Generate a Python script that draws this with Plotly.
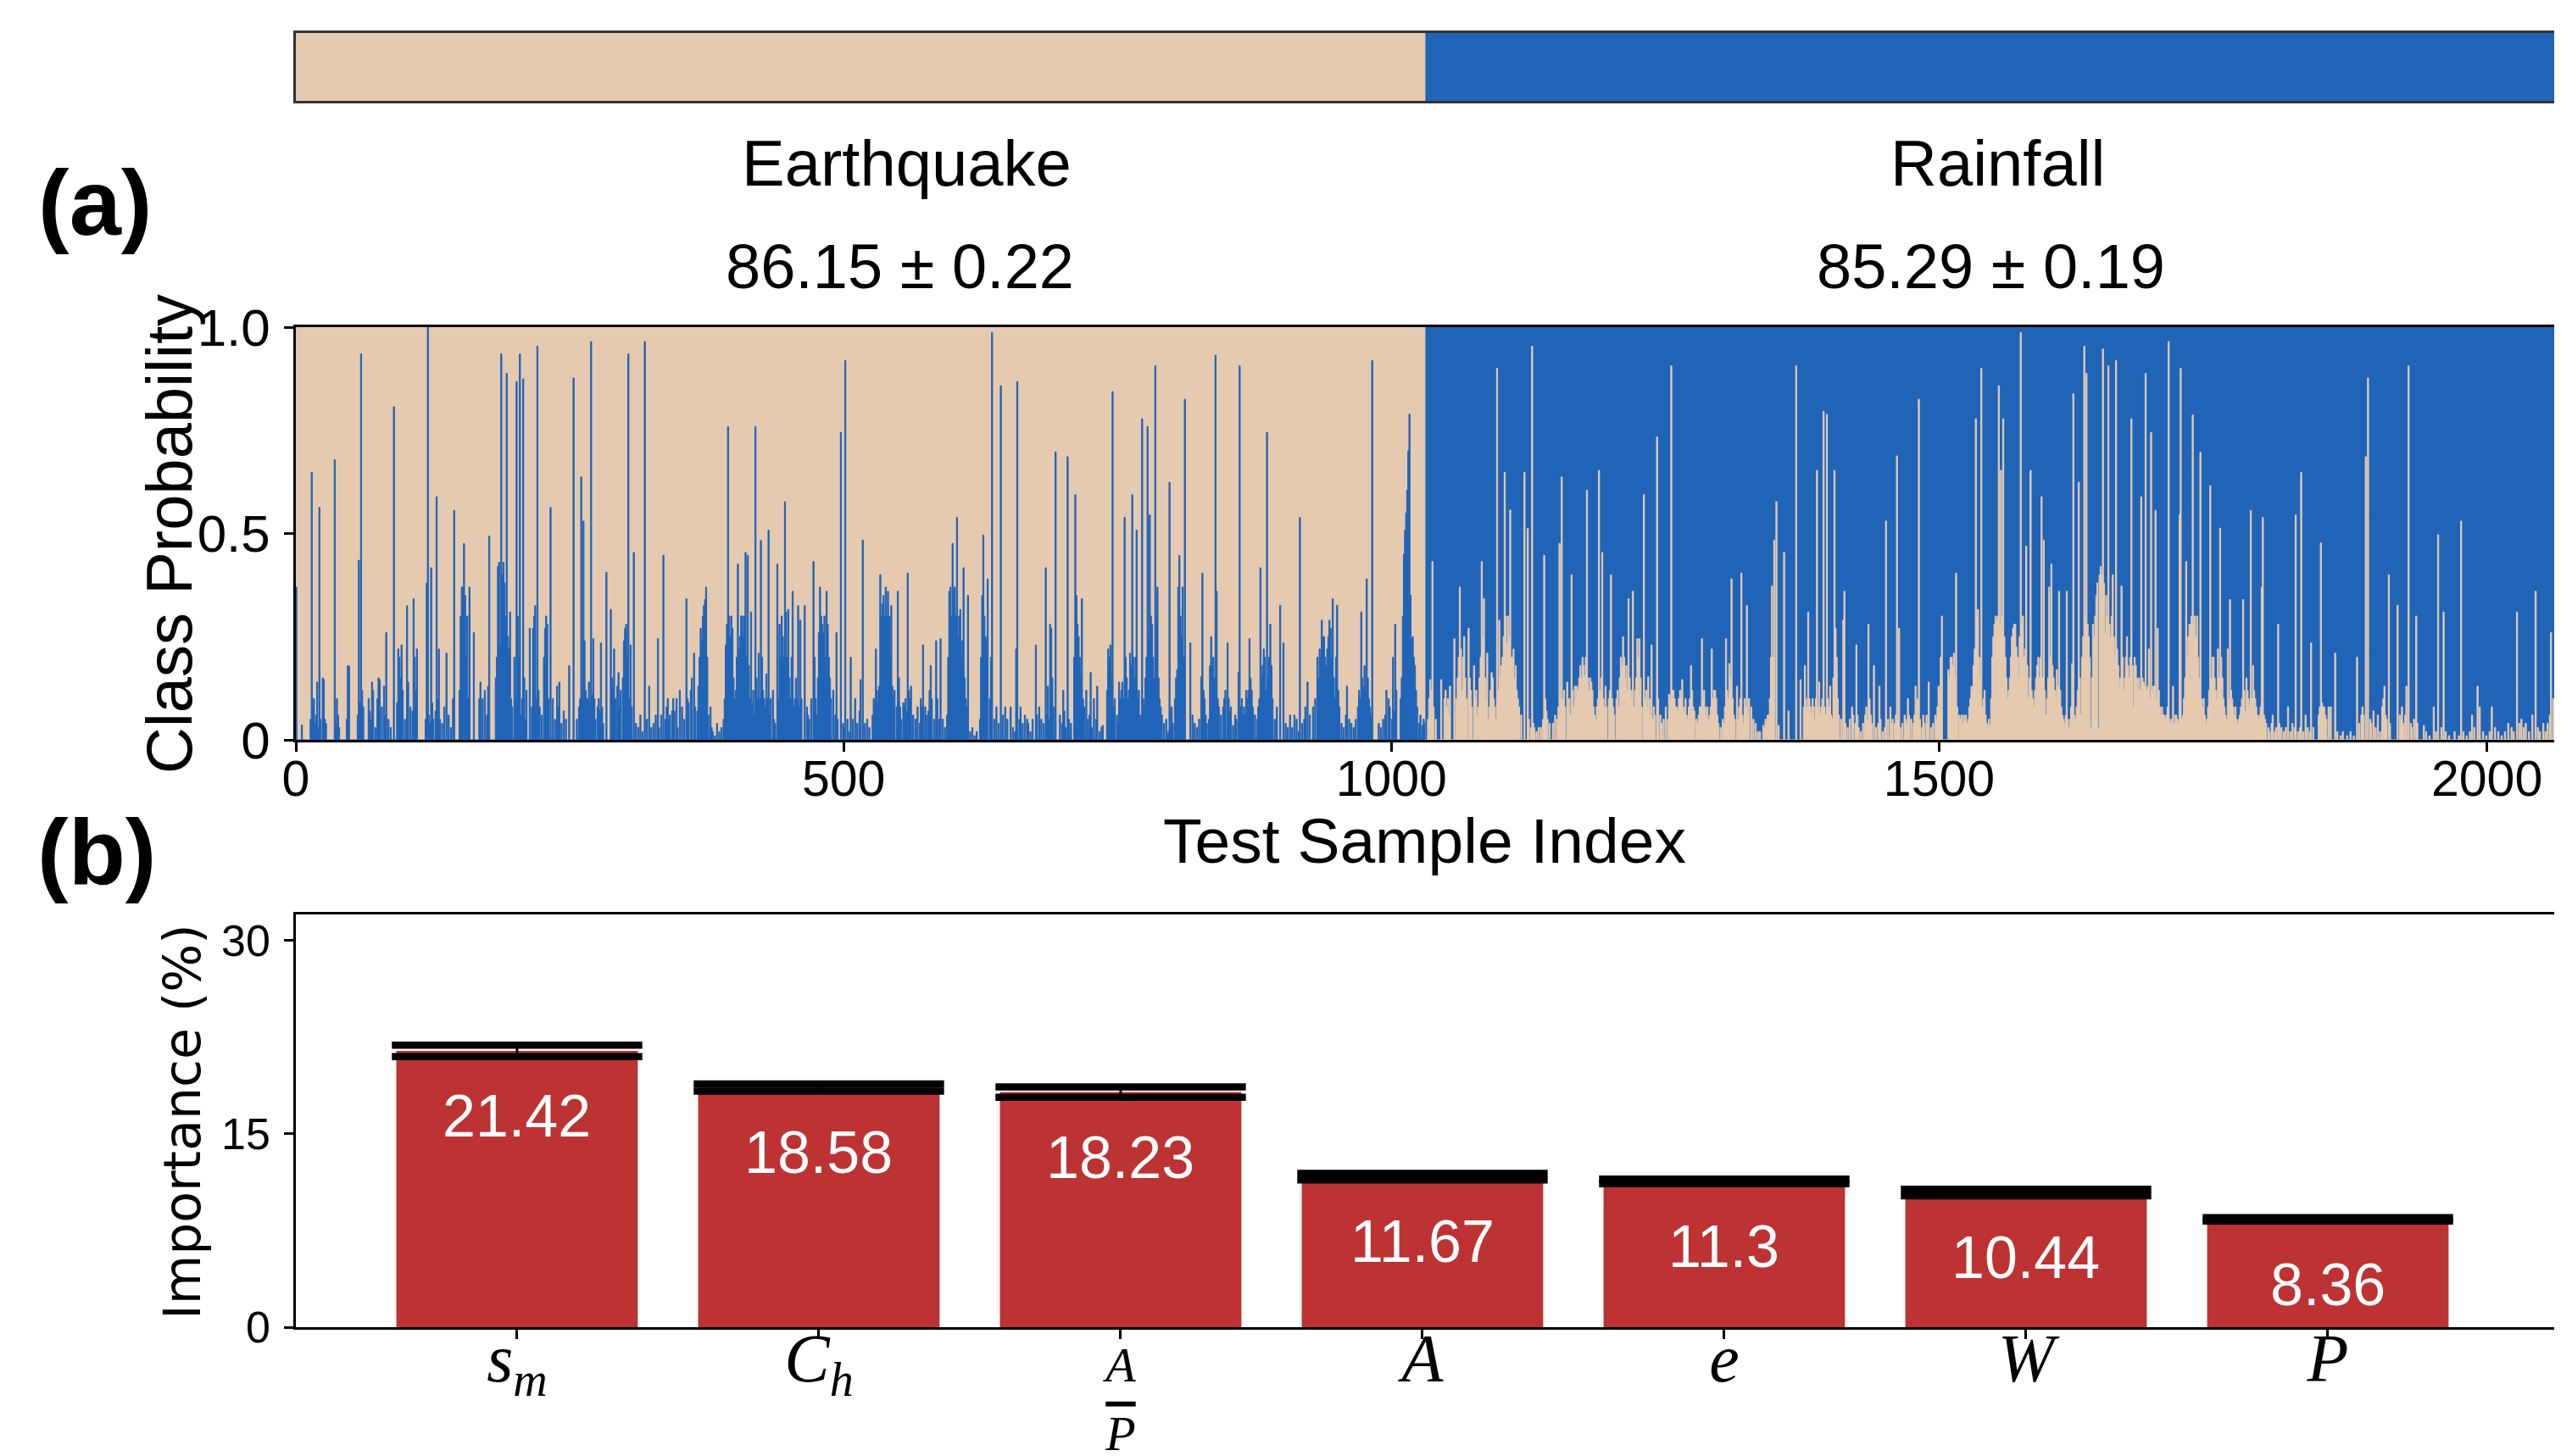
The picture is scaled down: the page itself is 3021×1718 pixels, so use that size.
import numpy as np
import plotly.graph_objects as go

# ---------------- data ----------------
n_earthquake = 1031
n_rainfall = 1032
class_names = ["Earthquake", "Rainfall"]
class_scores = ["86.15 ± 0.22", "85.29 ± 0.19"]

# earthquake test samples: predicted rainfall probability, tall spikes (index, value)
eq_idx = [0, 5, 14, 19, 21, 25, 35, 38, 48, 57, 59, 61, 69, 76, 82, 89, 96, 101, 107, 110,
          120, 123, 128, 130, 137, 144, 151, 153, 158, 162, 170, 175, 176, 186, 187, 189, 192, 195,
          201, 204, 207, 213, 218, 220, 229, 232, 240, 249, 253, 256, 260, 262, 269, 271, 278, 283,
          287, 294, 301, 303, 305, 308, 318, 322, 330, 333, 335, 341, 347, 356, 363, 369, 372, 374,
          378, 382, 392, 394, 398, 403, 410, 412, 415, 419, 422, 424, 431, 439, 441, 446, 449, 453,
          458, 460, 464, 472, 478, 484, 485, 493, 497, 501, 506, 510, 515, 517, 529, 533, 538, 540,
          543, 549, 554, 558, 561, 572, 574, 579, 588, 597, 599, 603, 606, 609, 613, 627, 631, 635,
          643, 647, 657, 658, 661, 668, 675, 678, 684, 686, 688, 693, 701, 704, 711, 713, 717, 725,
          731, 736, 743, 745, 751, 756, 761, 763, 767, 772, 777, 779, 784, 786, 795, 797, 804, 806,
          809, 811, 816, 826, 827, 830, 836, 839, 840, 850, 855, 860, 861, 864, 867, 870, 880, 883,
          886, 889, 895, 898, 901, 911, 916, 921, 923, 932, 936, 938, 943, 946, 950, 959, 972, 975,
          977, 982, 995, 1001, 1003, 1012, 1014, 1016, 1018, 1021, 1028]
eq_p_rain = [0.37, 0.036, 0.648, 0.14, 0.563, 0.146, 0.679, 0.06, 0.179, 0.435, 0.935, 0.08, 0.14, 0.146, 0.26, 0.807, 0.23, 0.325, 0.342, 0.22,
             1.0, 0.417, 0.589, 0.22, 0.21, 0.556, 0.37, 0.476, 0.37, 0.26, 0.10, 0.13, 0.494, 0.23, 0.935, 0.43, 0.888, 0.31,
             0.868, 0.935, 0.875, 0.27, 0.325, 0.954, 0.28, 0.563, 0.14, 0.18, 0.877, 0.05, 0.637, 0.53, 0.965, 0.245, 0.235, 0.406,
             0.316, 0.163, 0.28, 0.935, 0.23, 0.454, 0.965, 0.13, 0.245, 0.06, 0.447, 0.06, 0.10, 0.342, 0.21, 0.27, 0.325, 0.37,
             0.08, 0.01, 0.23, 0.759, 0.27, 0.426, 0.454, 0.447, 0.31, 0.759, 0.21, 0.483, 0.508, 0.426, 0.28, 0.577, 0.316, 0.36,
             0.325, 0.29, 0.325, 0.432, 0.37, 0.36, 0.28, 0.26, 0.745, 0.919, 0.20, 0.10, 0.146, 0.484, 0.22, 0.40, 0.37, 0.36,
             0.325, 0.36, 0.09, 0.404, 0.13, 0.23, 0.08, 0.18, 0.245, 0.37, 0.476, 0.539, 0.316, 0.417, 0.35, 0.496, 0.39, 0.987,
             0.858, 0.08, 0.22, 0.868, 0.08, 0.04, 0.23, 0.08, 0.417, 0.13, 0.28, 0.698, 0.07, 0.686, 0.594, 0.28, 0.342, 0.163,
             0.13, 0.035, 0.23, 0.844, 0.14, 0.539, 0.21, 0.594, 0.508, 0.778, 0.759, 0.545, 0.906, 0.37, 0.01, 0.624, 0.17, 0.447,
             0.37, 0.825, 0.235, 0.153, 0.404, 0.06, 0.18, 0.932, 0.36, 0.235, 0.035, 0.163, 0.906, 0.06, 0.12, 0.245, 0.417, 0.22,
             0.745, 0.28, 0.08, 0.326, 0.235, 0.06, 0.539, 0.08, 0.14, 0.20, 0.29, 0.25, 0.29, 0.342, 0.326, 0.13, 0.31, 0.18,
             0.39, 0.919, 0.12, 0.20, 0.28, 0.508, 0.605, 0.789, 0.245, 0.18, 0.035]

# earthquake test samples: low-level predicted rainfall probability (index, value)
eq_base_idx = [13, 15, 16, 17, 18, 20, 22, 24, 26, 27, 36, 37, 39, 46, 47, 56, 58, 60, 66, 67, 68, 70, 72, 74, 75, 78, 80, 81, 84, 86,
               92, 93, 94, 95, 97, 99, 102, 104, 106, 108, 109, 118, 119, 121, 122, 124, 125, 127, 129, 131, 133, 135, 139, 141, 143,
               149, 150, 152, 154, 155, 156, 157, 167, 168, 172, 174, 182, 183, 184, 185, 188, 190, 191, 193, 194, 196, 197,
               199, 200, 202, 203, 205, 206, 208, 209, 210, 215, 216, 217, 219, 221, 222, 224, 226, 227, 228, 230,
               234, 236, 238, 239, 242, 244, 246, 258, 259, 261, 263, 264, 265, 266, 267, 268, 270, 272, 273, 275, 276, 277, 279, 280,
               288, 289, 290, 291, 293, 295, 296, 298, 299, 300, 302, 304, 306, 310, 312, 314, 316, 320, 324, 326, 328, 331, 337,
               338, 339, 340, 343, 344, 345, 348, 350, 352, 354, 357, 358, 360, 361, 364, 366, 367, 368, 370, 371, 373, 375, 376,
               379, 380, 384, 386, 388, 390, 391, 393, 395, 396, 397, 399, 400, 401, 402, 404, 405, 406, 407, 408, 409, 411, 413,
               414, 416, 417, 418, 420, 421, 423, 425, 426, 427, 428, 429, 430, 432, 433, 435, 436, 437, 440, 442, 443, 444, 445,
               447, 448, 450, 451, 452, 454, 455, 456, 457, 459, 461, 466, 467, 468, 470, 473, 474, 475, 476, 477, 479, 480, 481,
               482, 483, 486, 487, 488, 490, 492, 494, 499, 500, 503, 505, 508, 512, 514, 519, 521, 523, 526, 527, 528, 530, 531,
               532, 534, 535, 536, 537, 539, 541, 542, 544, 545, 546, 548, 550, 551, 552, 555, 556, 557, 559, 560, 563, 565, 567,
               569, 570, 571, 575, 577, 578, 580, 582, 584, 585, 587, 590, 592, 594, 595, 596, 598, 600, 601, 602, 604, 605, 607,
               608, 610, 611, 612, 615, 617, 619, 621, 624, 625, 626, 628, 629, 630, 633, 634, 637, 639, 641, 645, 649, 652, 654,
               656, 660, 663, 665, 667, 670, 672, 676, 680, 682, 685, 687, 689, 690, 691, 697, 699, 700, 702, 705, 707, 710, 712,
               714, 715, 716, 718, 719, 721, 722, 724, 726, 728, 730, 733, 735, 740, 741, 742, 744, 746, 747, 749, 750, 752, 753,
               754, 755, 757, 758, 759, 760, 762, 764, 765, 766, 768, 769, 770, 771, 773, 774, 775, 776, 778, 780, 781, 782, 783,
               785, 787, 788, 789, 790, 792, 794, 796, 798, 799, 800, 802, 803, 805, 807, 808, 810, 818, 820, 822, 824, 828, 829,
               831, 833, 834, 835, 837, 838, 841, 842, 844, 846, 847, 848, 851, 852, 853, 857, 858, 862, 863, 865, 866, 868, 869,
               871, 872, 873, 875, 877, 878, 879, 881, 882, 884, 885, 887, 888, 890, 891, 893, 903, 905, 907, 909, 913, 915, 918,
               920, 925, 928, 930, 933, 934, 935, 937, 939, 940, 941, 942, 944, 945, 947, 948, 949, 951, 952, 954, 956, 958, 961,
               963, 965, 967, 969, 970, 971, 973, 974, 976, 978, 979, 980, 981, 988, 990, 992, 994, 997, 998, 1000, 1002, 1004,
               1008, 1009, 1010, 1011, 1013, 1015, 1017, 1019, 1020, 1022, 1023, 1025, 1026, 1029, 1030]
eq_base_val = [0.05, 0.08, 0.1, 0.04, 0.06, 0.03, 0.05, 0.15, 0.05, 0.04, 0.04, 0.1, 0.03, 0.05, 0.18, 0.06, 0.09, 0.12, 0.1, 0.07, 0.05, 0.12, 0.03, 0.1, 0.15, 0.08, 0.13, 0.06, 0.05, 0.03,
               0.09, 0.22, 0.2, 0.15, 0.12, 0.05, 0.14, 0.08, 0.07, 0.2, 0.12, 0.05, 0.38, 0.06, 0.04, 0.09, 0.05, 0.07, 0.1, 0.05, 0.04, 0.08, 0.06, 0.03, 0.1,
               0.12, 0.3, 0.37, 0.35, 0.2, 0.3, 0.1, 0.1, 0.14, 0.12, 0.06, 0.15, 0.2, 0.42, 0.43, 0.4, 0.38, 0.3, 0.25, 0.22, 0.1, 0.08,
               0.2, 0.1, 0.3, 0.2, 0.06, 0.1, 0.15, 0.05, 0.12, 0.08, 0.27, 0.3, 0.1, 0.12, 0.08, 0.06, 0.2, 0.27, 0.3, 0.1,
               0.1, 0.05, 0.13, 0.08, 0.04, 0.07, 0.05, 0.08, 0.1, 0.12, 0.24, 0.12, 0.1, 0.1, 0.14, 0.09, 0.11, 0.1, 0.05, 0.08, 0.1, 0.07, 0.08, 0.04,
               0.15, 0.12, 0.22, 0.1, 0.13, 0.08, 0.12, 0.15, 0.24, 0.27, 0.2, 0.1, 0.08, 0.04, 0.03, 0.06, 0.02, 0.05, 0.03, 0.04, 0.06, 0.03, 0.05,
               0.08, 0.1, 0.05, 0.07, 0.1, 0.07, 0.03, 0.12, 0.08, 0.05, 0.1, 0.09, 0.12, 0.15, 0.08, 0.07, 0.13, 0.2, 0.24, 0.3, 0.34, 0.2, 0.06,
               0.03, 0.02, 0.04, 0.02, 0.03, 0.05, 0.1, 0.28, 0.3, 0.25, 0.3, 0.15, 0.1, 0.12, 0.2, 0.22, 0.25, 0.3, 0.3, 0.25, 0.3, 0.2, 0.18,
               0.1, 0.09, 0.12, 0.06, 0.15, 0.1, 0.1, 0.2, 0.12, 0.1, 0.08, 0.16, 0.1, 0.06, 0.1, 0.12, 0.05, 0.04, 0.1, 0.2, 0.3, 0.25, 0.2,
               0.31, 0.2, 0.15, 0.1, 0.2, 0.08, 0.1, 0.15, 0.1, 0.08, 0.1, 0.08, 0.06, 0.05, 0.1, 0.2, 0.1, 0.06, 0.15, 0.26, 0.3, 0.28, 0.26,
               0.3, 0.2, 0.2, 0.15, 0.1, 0.12, 0.06, 0.05, 0.04, 0.03, 0.05, 0.02, 0.05, 0.04, 0.07, 0.04, 0.05, 0.03, 0.06, 0.1, 0.08, 0.12, 0.09,
               0.13, 0.3, 0.33, 0.35, 0.3, 0.3, 0.3, 0.2, 0.13, 0.1, 0.12, 0.08, 0.15, 0.08, 0.05, 0.08, 0.1, 0.07, 0.12, 0.1, 0.06, 0.05, 0.08,
               0.04, 0.1, 0.08, 0.06, 0.07, 0.12, 0.1, 0.05, 0.24, 0.1, 0.05, 0.05, 0.03, 0.06, 0.2, 0.36, 0.3, 0.35, 0.37, 0.3, 0.25, 0.3, 0.2,
               0.24, 0.15, 0.1, 0.08, 0.02, 0.03, 0.01, 0.02, 0.05, 0.2, 0.35, 0.3, 0.25, 0.24, 0.1, 0.2, 0.05, 0.08, 0.04, 0.06, 0.05, 0.08, 0.03,
               0.02, 0.05, 0.04, 0.06, 0.05, 0.02, 0.05, 0.06, 0.05, 0.04, 0.06, 0.05, 0.27, 0.15, 0.08, 0.06, 0.04, 0.12, 0.03, 0.05, 0.04, 0.2, 0.35,
               0.25, 0.2, 0.15, 0.1, 0.08, 0.12, 0.05, 0.06, 0.03, 0.1, 0.05, 0.02, 0.03, 0.12, 0.22, 0.2, 0.15, 0.08, 0.1, 0.06, 0.04, 0.1, 0.12,
               0.14, 0.1, 0.2, 0.15, 0.1, 0.12, 0.18, 0.2, 0.15, 0.2, 0.1, 0.12, 0.06, 0.05, 0.1, 0.08, 0.15, 0.2, 0.25, 0.3, 0.28, 0.2, 0.15,
               0.3, 0.15, 0.1, 0.08, 0.06, 0.04, 0.05, 0.02, 0.06, 0.08, 0.04, 0.1, 0.15, 0.37, 0.3, 0.25, 0.2, 0.06, 0.04, 0.03, 0.05, 0.12, 0.1,
               0.04, 0.05, 0.18, 0.25, 0.2, 0.15, 0.1, 0.08, 0.06, 0.08, 0.1, 0.12, 0.1, 0.07, 0.08, 0.06, 0.05, 0.08, 0.1, 0.08, 0.06, 0.1, 0.12,
               0.15, 0.12, 0.08, 0.06, 0.05, 0.08, 0.1, 0.15, 0.18, 0.2, 0.12, 0.15, 0.2, 0.18, 0.1, 0.05, 0.04, 0.03, 0.06, 0.03, 0.05, 0.02, 0.04,
               0.05, 0.06, 0.08, 0.1, 0.15, 0.22, 0.2, 0.25, 0.2, 0.18, 0.22, 0.25, 0.27, 0.2, 0.15, 0.1, 0.2, 0.12, 0.08, 0.04, 0.03, 0.06, 0.05,
               0.04, 0.03, 0.05, 0.08, 0.12, 0.1, 0.15, 0.13, 0.12, 0.15, 0.1, 0.08, 0.06, 0.04, 0.03, 0.05, 0.06, 0.1, 0.08, 0.05, 0.07, 0.12,
               0.1, 0.15, 0.3, 0.45, 0.55, 0.7, 0.35, 0.25, 0.2, 0.12, 0.08, 0.04, 0.06, 0.05, 0.04]

# rainfall test samples: predicted earthquake probability, tall spikes (index, value)
rain_idx = [1035, 1037, 1045, 1050, 1053, 1057, 1062, 1063, 1070, 1075, 1082, 1084, 1087, 1091, 1096, 1098, 1103, 1105,
            1108, 1109, 1121, 1124, 1128, 1134, 1139, 1141, 1153, 1155, 1160, 1164, 1167, 1169, 1176, 1178, 1185, 1189,
            1192, 1195, 1200, 1207, 1216, 1220, 1224, 1226, 1230, 1234, 1237, 1242, 1253, 1255, 1257, 1260, 1265, 1267,
            1273, 1276, 1281, 1283, 1288, 1292, 1295, 1305, 1308, 1310, 1315, 1319, 1322, 1324, 1339, 1343, 1347, 1349,
            1351, 1353, 1358, 1362, 1369, 1373, 1377, 1380, 1388, 1390, 1394, 1397, 1400, 1404, 1412, 1413, 1424, 1435,
            1440, 1445, 1451, 1456, 1461, 1463, 1471, 1478, 1481, 1485, 1490, 1496, 1499, 1502, 1508, 1513, 1515, 1520,
            1524, 1529, 1533, 1535, 1538, 1546, 1552, 1554, 1556, 1558, 1567, 1570, 1574, 1576, 1579, 1581, 1583, 1590,
            1593, 1595, 1597, 1600, 1602, 1607, 1609, 1616, 1621, 1622, 1627, 1629, 1632, 1634, 1638, 1640, 1645, 1649,
            1651, 1654, 1658, 1661, 1664, 1666, 1671, 1675, 1677, 1679, 1684, 1686, 1688, 1691, 1693, 1695, 1697, 1699,
            1705, 1709, 1713, 1715, 1719, 1720, 1725, 1731, 1733, 1735, 1738, 1743, 1747, 1754, 1756, 1763, 1765, 1770,
            1777, 1779, 1784, 1786, 1794, 1795, 1804, 1809, 1818, 1825, 1830, 1834, 1839, 1848, 1851, 1855, 1857, 1861,
            1881, 1889, 1891, 1896, 1900, 1906, 1910, 1918, 1926, 1928, 1935, 1936, 1942, 1951, 1955, 1960, 1976, 1986,
            1991, 1993, 2004, 2019, 2027, 2029, 2035, 2041, 2044, 2055, 2058, 2061]
rain_p_eq = [0.146, 0.432, 0.146, 0.08, 0.13, 0.245, 0.37, 0.22, 0.27, 0.18, 0.432, 0.342, 0.21, 0.163, 0.90, 0.29, 0.648, 0.235,
             0.557, 0.20, 0.648, 0.512, 0.954, 0.03, 0.447, 0.07, 0.476, 0.637, 0.14, 0.40, 0.13, 0.13, 0.155, 0.605, 0.06, 0.653,
             0.454, 0.13, 0.40, 0.08, 0.342, 0.36, 0.245, 0.245, 0.594, 0.153, 0.23, 0.734, 0.11, 0.906, 0.12, 0.08, 0.146, 0.065,
             0.18, 0.07, 0.08, 0.245, 0.08, 0.22, 0.12, 0.245, 0.185, 0.39, 0.13, 0.404, 0.10, 0.325, 0.035, 0.06, 0.373, 0.484,
             0.577, 0.035, 0.454, 0.07, 0.906, 0.146, 0.18, 0.31, 0.653, 0.14, 0.796, 0.789, 0.13, 0.653, 0.29, 0.36, 0.23, 0.28,
             0.18, 0.13, 0.53, 0.04, 0.688, 0.27, 0.10, 0.13, 0.825, 0.06, 0.14, 0.06, 0.13, 0.30, 0.17, 0.21, 0.404, 0.06,
             0.06, 0.13, 0.778, 0.316, 0.90, 0.035, 0.29, 0.858, 0.653, 0.778, 0.27, 0.225, 0.987, 0.30, 0.47, 0.10, 0.653, 0.20,
             0.589, 0.484, 0.06, 0.37, 0.426, 0.17, 0.36, 0.36, 0.185, 0.839, 0.624, 0.06, 0.954, 0.888, 0.03, 0.28, 0.03, 0.947,
             0.26, 0.906, 0.40, 0.919, 0.13, 0.373, 0.25, 0.778, 0.08, 0.18, 0.589, 0.14, 0.888, 0.22, 0.745, 0.13, 0.556, 0.27,
             0.06, 0.965, 0.13, 0.06, 0.545, 0.90, 0.432, 0.787, 0.30, 0.30, 0.697, 0.035, 0.616, 0.22, 0.513, 0.22, 0.34, 0.08,
             0.34, 0.07, 0.556, 0.18, 0.37, 0.539, 0.06, 0.28, 0.08, 0.545, 0.648, 0.06, 0.235, 0.477, 0.08, 0.08, 0.08, 0.21,
             0.20, 0.686, 0.877, 0.07, 0.06, 0.13, 0.40, 0.326, 0.13, 0.906, 0.30, 0.04, 0.035, 0.08, 0.497, 0.31, 0.53, 0.06,
             0.13, 0.08, 0.08, 0.04, 0.31, 0.04, 0.04, 0.06, 0.36, 0.04, 0.26, 0.08]

# rainfall test samples: low-level predicted earthquake probability (index, value)
rain_base_idx = [1033, 1034, 1036, 1038, 1040, 1048, 1049, 1051, 1052, 1059, 1060, 1061, 1064, 1065, 1066, 1067, 1068, 1071, 1072, 1073,
                 1076, 1077, 1078, 1079, 1080, 1081, 1083, 1085, 1086, 1088, 1089, 1090, 1092, 1093, 1094, 1095, 1097, 1099, 1100,
                 1101, 1102, 1104, 1106, 1107, 1110, 1111, 1112, 1113, 1114, 1115, 1116, 1118, 1125, 1127, 1129, 1130, 1132, 1136,
                 1138, 1140, 1142, 1144, 1147, 1149, 1151, 1152, 1154, 1156, 1157, 1158, 1161, 1162, 1163, 1165, 1166, 1168, 1170,
                 1171, 1172, 1173, 1174, 1175, 1177, 1179, 1180, 1181, 1182, 1183, 1184, 1186, 1187, 1188, 1190, 1191, 1193, 1194,
                 1196, 1198, 1199, 1201, 1202, 1203, 1205, 1206, 1208, 1209, 1210, 1211, 1212, 1213, 1214, 1215, 1217, 1218, 1219,
                 1221, 1222, 1223, 1225, 1227, 1228, 1231, 1232, 1233, 1235, 1236, 1238, 1239, 1240, 1243, 1245, 1246, 1248, 1250,
                 1252, 1254, 1256, 1258, 1259, 1261, 1262, 1263, 1264, 1266, 1268, 1269, 1270, 1271, 1272, 1274, 1275, 1278, 1279,
                 1280, 1282, 1284, 1285, 1286, 1287, 1289, 1290, 1291, 1293, 1294, 1296, 1297, 1298, 1300, 1302, 1303, 1304, 1306,
                 1307, 1309, 1311, 1312, 1313, 1316, 1317, 1318, 1320, 1321, 1323, 1325, 1326, 1328, 1330, 1332, 1334, 1336, 1340,
                 1341, 1342, 1344, 1345, 1346, 1348, 1376, 1378, 1379, 1381, 1382, 1383, 1384, 1385, 1386, 1387, 1389, 1391, 1392,
                 1393, 1395, 1396, 1398, 1399, 1401, 1402, 1403, 1405, 1406, 1407, 1408, 1410, 1414, 1416, 1418, 1420, 1421, 1423,
                 1425, 1426, 1428, 1430, 1432, 1433, 1434, 1436, 1437, 1438, 1442, 1444, 1446, 1448, 1450, 1453, 1455, 1457, 1459,
                 1460, 1462, 1464, 1466, 1468, 1469, 1470, 1472, 1474, 1476, 1477, 1479, 1480, 1482, 1484, 1486, 1488, 1489, 1492,
                 1494, 1497, 1498, 1500, 1501, 1509, 1510, 1511, 1512, 1514, 1516, 1518, 1519, 1521, 1522, 1523, 1525, 1526, 1527,
                 1528, 1530, 1531, 1532, 1534, 1536, 1537, 1539, 1540, 1541, 1542, 1543, 1544, 1545, 1547, 1548, 1549, 1550, 1551,
                 1553, 1555, 1557, 1559, 1560, 1561, 1562, 1563, 1564, 1565, 1566, 1568, 1569, 1571, 1572, 1573, 1575, 1577, 1578,
                 1580, 1582, 1584, 1585, 1586, 1587, 1588, 1589, 1591, 1592, 1594, 1596, 1598, 1599, 1601, 1603, 1604, 1605, 1606,
                 1608, 1610, 1611, 1612, 1613, 1614, 1615, 1617, 1618, 1619, 1620, 1623, 1624, 1625, 1626, 1628, 1630, 1631, 1633,
                 1635, 1636, 1637, 1639, 1641, 1642, 1643, 1644, 1646, 1647, 1648, 1650, 1652, 1653, 1655, 1656, 1657, 1659, 1660,
                 1662, 1663, 1665, 1667, 1668, 1669, 1670, 1672, 1673, 1674, 1676, 1678, 1680, 1681, 1682, 1683, 1685, 1687, 1689,
                 1690, 1692, 1694, 1696, 1698, 1700, 1701, 1702, 1703, 1704, 1706, 1707, 1708, 1710, 1711, 1712, 1714, 1716, 1717,
                 1718, 1721, 1722, 1723, 1724, 1726, 1727, 1728, 1729, 1730, 1732, 1734, 1736, 1737, 1739, 1740, 1741, 1742, 1744,
                 1745, 1746, 1748, 1749, 1750, 1751, 1752, 1753, 1755, 1757, 1758, 1759, 1760, 1761, 1762, 1764, 1766, 1767, 1768,
                 1769, 1771, 1772, 1773, 1774, 1775, 1776, 1778, 1780, 1781, 1782, 1783, 1785, 1787, 1788, 1789, 1790, 1791, 1792,
                 1793, 1796, 1797, 1798, 1800, 1801, 1803, 1806, 1807, 1810, 1812, 1814, 1816, 1820, 1822, 1824, 1827, 1829, 1832,
                 1836, 1838, 1841, 1846, 1847, 1849, 1850, 1852, 1853, 1863, 1866, 1868, 1872, 1875, 1878, 1883, 1885, 1886, 1887,
                 1893, 1894, 1898, 1902, 1904, 1905, 1907, 1908, 1911, 1920, 1921, 1922, 1923, 1925, 1930, 1931, 1933, 1944, 1947,
                 1953, 1958, 1962, 1965, 1970, 1974, 1978, 1981, 1984, 1988, 1996, 1999, 2002, 2007, 2010, 2013, 2016, 2022, 2024,
                 2031, 2033, 2038, 2046, 2048, 2051, 2053, 2057, 2060, 2062]
rain_base_val = [0.05, 0.1, 0.12, 0.08, 0.05, 0.1, 0.12, 0.1, 0.06, 0.1, 0.15, 0.2, 0.12, 0.2, 0.25, 0.15, 0.1, 0.15, 0.12, 0.08,
                 0.1, 0.12, 0.06, 0.08, 0.15, 0.2, 0.25, 0.15, 0.1, 0.05, 0.08, 0.12, 0.15, 0.1, 0.08, 0.05, 0.12, 0.15, 0.18,
                 0.2, 0.25, 0.3, 0.3, 0.25, 0.2, 0.22, 0.15, 0.18, 0.12, 0.1, 0.08, 0.06, 0.05, 0.03, 0.04, 0.03, 0.02, 0.03,
                 0.05, 0.1, 0.05, 0.04, 0.04, 0.06, 0.05, 0.08, 0.1, 0.1, 0.12, 0.08, 0.08, 0.1, 0.06, 0.12, 0.08, 0.1, 0.12,
                 0.15, 0.18, 0.15, 0.2, 0.18, 0.2, 0.15, 0.12, 0.15, 0.14, 0.12, 0.08, 0.05, 0.08, 0.1, 0.12, 0.15, 0.1, 0.08,
                 0.08, 0.1, 0.12, 0.1, 0.08, 0.06, 0.1, 0.12, 0.15, 0.2, 0.18, 0.25, 0.2, 0.15, 0.18, 0.12, 0.15, 0.12, 0.1,
                 0.08, 0.12, 0.15, 0.2, 0.15, 0.08, 0.1, 0.12, 0.08, 0.1, 0.06, 0.05, 0.08, 0.06, 0.1, 0.06, 0.04, 0.05, 0.08,
                 0.05, 0.1, 0.12, 0.1, 0.08, 0.07, 0.1, 0.12, 0.1, 0.08, 0.1, 0.06, 0.05, 0.08, 0.1, 0.12, 0.08, 0.05, 0.04,
                 0.06, 0.08, 0.1, 0.12, 0.08, 0.06, 0.05, 0.06, 0.08, 0.1, 0.12, 0.1, 0.06, 0.04, 0.03, 0.05, 0.04, 0.08, 0.12,
                 0.1, 0.15, 0.1, 0.06, 0.05, 0.05, 0.08, 0.1, 0.06, 0.04, 0.08, 0.06, 0.1, 0.08, 0.05, 0.04, 0.02, 0.02, 0.03,
                 0.05, 0.04, 0.06, 0.1, 0.2, 0.2, 0.08, 0.1, 0.08, 0.1, 0.08, 0.06, 0.1, 0.08, 0.05, 0.1, 0.08, 0.06, 0.08,
                 0.1, 0.08, 0.06, 0.1, 0.08, 0.06, 0.05, 0.15, 0.27, 0.2, 0.1, 0.06, 0.05, 0.04, 0.03, 0.05, 0.08, 0.06, 0.04,
                 0.06, 0.03, 0.02, 0.04, 0.06, 0.08, 0.05, 0.1, 0.06, 0.04, 0.03, 0.04, 0.05, 0.02, 0.03, 0.05, 0.08, 0.05, 0.04,
                 0.06, 0.05, 0.03, 0.04, 0.06, 0.05, 0.04, 0.06, 0.05, 0.04, 0.06, 0.08, 0.1, 0.05, 0.03, 0.04, 0.06, 0.04, 0.03,
                 0.04, 0.05, 0.08, 0.12, 0.2, 0.15, 0.2, 0.2, 0.18, 0.15, 0.08, 0.06, 0.05, 0.04, 0.06, 0.05, 0.04, 0.05, 0.08,
                 0.1, 0.12, 0.18, 0.22, 0.3, 0.2, 0.15, 0.08, 0.1, 0.12, 0.06, 0.04, 0.03, 0.05, 0.1, 0.2, 0.25, 0.28, 0.3,
                 0.3, 0.28, 0.3, 0.25, 0.2, 0.15, 0.1, 0.12, 0.15, 0.2, 0.25, 0.28, 0.28, 0.2, 0.15, 0.25, 0.28, 0.2, 0.22,
                 0.18, 0.15, 0.12, 0.1, 0.08, 0.12, 0.15, 0.18, 0.15, 0.2, 0.15, 0.12, 0.1, 0.15, 0.2, 0.18, 0.15, 0.12, 0.1,
                 0.13, 0.12, 0.08, 0.06, 0.05, 0.04, 0.06, 0.05, 0.03, 0.05, 0.08, 0.06, 0.05, 0.08, 0.12, 0.15, 0.2, 0.25, 0.3,
                 0.28, 0.25, 0.2, 0.15, 0.25, 0.3, 0.35, 0.38, 0.4, 0.42, 0.4, 0.38, 0.35, 0.3, 0.28, 0.25, 0.3, 0.25, 0.2,
                 0.22, 0.18, 0.15, 0.2, 0.12, 0.15, 0.2, 0.18, 0.15, 0.2, 0.18, 0.2, 0.15, 0.12, 0.15, 0.12, 0.15, 0.13, 0.12,
                 0.13, 0.1, 0.12, 0.13, 0.1, 0.12, 0.08, 0.06, 0.08, 0.06, 0.05, 0.06, 0.08, 0.05, 0.04, 0.05, 0.04, 0.06, 0.05,
                 0.04, 0.05, 0.06, 0.1, 0.15, 0.2, 0.25, 0.28, 0.28, 0.3, 0.28, 0.25, 0.2, 0.15, 0.1, 0.08, 0.1, 0.06, 0.05,
                 0.08, 0.12, 0.15, 0.2, 0.2, 0.15, 0.12, 0.1, 0.15, 0.2, 0.15, 0.1, 0.08, 0.06, 0.05, 0.1, 0.12, 0.1, 0.08,
                 0.06, 0.05, 0.04, 0.05, 0.06, 0.08, 0.1, 0.12, 0.15, 0.12, 0.1, 0.08, 0.1, 0.12, 0.1, 0.08, 0.06, 0.05, 0.06,
                 0.08, 0.06, 0.05, 0.04, 0.03, 0.02, 0.04, 0.02, 0.03, 0.04, 0.03, 0.02, 0.03, 0.02, 0.04, 0.03, 0.02, 0.03, 0.02,
                 0.03, 0.02, 0.03, 0.06, 0.08, 0.09, 0.08, 0.06, 0.05, 0.02, 0.01, 0.02, 0.01, 0.02, 0.01, 0.04, 0.06, 0.08, 0.06,
                 0.05, 0.04, 0.03, 0.02, 0.08, 0.1, 0.06, 0.05, 0.04, 0.06, 0.05, 0.08, 0.04, 0.06, 0.04, 0.03, 0.05, 0.02, 0.01,
                 0.02, 0.03, 0.02, 0.01, 0.02, 0.01, 0.02, 0.01, 0.02, 0.03, 0.02, 0.01, 0.02, 0.03, 0.02, 0.01, 0.02, 0.03, 0.02,
                 0.05, 0.03, 0.02, 0.03, 0.02, 0.04, 0.02, 0.06, 0.1, 0.12]

prob_ticks = [0, 0.5, 1.0]
prob_ticktext = ["0", "0.5", "1.0"]
index_ticks = [0, 500, 1000, 1500, 2000]

features = ["<span style='font-size:80px'><i>s</i><sub><i>m</i></sub></span>",
            "<span style='font-size:80px'><i>C</i><sub><i>h</i></sub></span>",
            "<span style='font-size:58px'><i>A</i></span><br><span style='font-size:58px;text-decoration:overline'><i>P</i></span>",
            "<span style='font-size:80px'><i>A</i></span>",
            "<span style='font-size:80px'><i>e</i></span>",
            "<span style='font-size:80px'><i>W</i></span>",
            "<span style='font-size:80px'><i>P</i></span>"]
importance = [21.42, 18.58, 18.23, 11.67, 11.3, 10.44, 8.36]
importance_err = [0.45, 0.28, 0.40, 0.26, 0.18, 0.25, 0.13]
importance_ticks = [0, 15, 30]

# ---------------- style ----------------
W, H = 3021, 1718
PAGE_MARGIN = 8  # browser body margin around the figure
BEIGE = "#e5cab0"
BLUE = "#2064b8"
RED = "#bd3232"
SANS = "Liberation Sans, Arial, sans-serif"
SERIF = "Liberation Serif, Times New Roman, serif"


def fx(px):
    return (px - PAGE_MARGIN) / W


def fy(py):
    return 1 - (py - PAGE_MARGIN) / H


n_total = n_earthquake + n_rainfall
fig = go.Figure()

# class-region backgrounds (panel a) and top strip
for xa, ya in (("x", "y"), ("x3", "y3")):
    fig.add_trace(go.Bar(
        x=[n_earthquake / 2, n_earthquake + n_rainfall / 2], y=[1, 1],
        width=[n_earthquake, n_rainfall],
        marker=dict(color=[BEIGE, BLUE], line=dict(width=0)),
        xaxis=xa, yaxis=ya, showlegend=False, hoverinfo="skip"))

# probability of the other class as step fills
p_eq = np.zeros(n_earthquake)
p_eq[np.array(eq_base_idx)] = eq_base_val
p_eq[np.array(eq_idx)] = np.maximum(p_eq[np.array(eq_idx)], eq_p_rain)
fig.add_trace(go.Scatter(
    x=np.arange(n_earthquake + 1), y=np.append(p_eq, p_eq[-1]),
    mode="lines", line=dict(width=1, shape="hv", color=BLUE), fill="tozeroy", fillcolor=BLUE,
    xaxis="x", yaxis="y", showlegend=False, hoverinfo="skip"))

p_rn = np.zeros(n_rainfall)
p_rn[np.array(rain_base_idx) - n_earthquake] = rain_base_val
ri = np.array(rain_idx) - n_earthquake
p_rn[ri] = np.maximum(p_rn[ri], rain_p_eq)
fig.add_trace(go.Scatter(
    x=n_earthquake + np.arange(n_rainfall + 1), y=np.append(p_rn, p_rn[-1]),
    mode="lines", line=dict(width=1, shape="hv", color=BEIGE), fill="tozeroy", fillcolor=BEIGE,
    xaxis="x", yaxis="y", showlegend=False, hoverinfo="skip"))

# panel (b) bars
xs = list(range(len(features)))
fig.add_trace(go.Bar(
    x=xs, y=importance, width=0.8,
    marker=dict(color=RED, line=dict(width=0)),
    error_y=dict(type="data", array=importance_err, color="black", thickness=3, width=0),
    xaxis="x2", yaxis="y2", showlegend=False, hoverinfo="skip"))
cap_x = xs + xs
cap_y = [v + e for v, e in zip(importance, importance_err)] + [v - e for v, e in zip(importance, importance_err)]
fig.add_trace(go.Scatter(
    x=cap_x, y=cap_y, mode="markers",
    marker=dict(symbol="line-ew", size=211, color="black", line=dict(width=8.5, color="black")),
    xaxis="x2", yaxis="y2", showlegend=False, hoverinfo="skip", cliponaxis=False))

annotations = []
for i, v in enumerate(importance):
    annotations.append(dict(x=i, y=v, xref="x2", yref="y2", text=f"{v:g}", showarrow=False,
                            yshift=-77, yanchor="middle", font=dict(family=SANS, size=70, color="white")))

# class labels
eq_centers = [1069, 2356]
for cx, name, score in zip(eq_centers, class_names, class_scores):
    annotations.append(dict(x=fx(cx), y=fy(192), xref="paper", yref="paper", text=name, showarrow=False,
                            xanchor="center", yanchor="middle", font=dict(family=SANS, size=76, color="black")))
    annotations.append(dict(x=fx(cx - 8), y=fy(314), xref="paper", yref="paper", text=score, showarrow=False,
                            xanchor="center", yanchor="middle", font=dict(family=SANS, size=74, color="black")))

# panel letters
annotations.append(dict(x=fx(112), y=fy(238), xref="paper", yref="paper", text="<b>(a)</b>", showarrow=False,
                        xanchor="center", yanchor="middle", font=dict(family=SANS, size=110, color="black")))
annotations.append(dict(x=fx(114), y=fy(1004), xref="paper", yref="paper", text="<b>(b)</b>", showarrow=False,
                        xanchor="center", yanchor="middle", font=dict(family=SANS, size=110, color="black")))

# axis titles
annotations.append(dict(x=fx(199), y=fy(630), xref="paper", yref="paper", text="Class Probability", showarrow=False,
                        textangle=-90, xanchor="center", yanchor="middle", font=dict(family=SANS, size=76, color="black")))
annotations.append(dict(x=fx(1680), y=fy(992), xref="paper", yref="paper", text="Test Sample Index", showarrow=False,
                        xanchor="center", yanchor="middle", font=dict(family=SANS, size=75, color="black")))
annotations.append(dict(x=fx(215), y=fy(1324), xref="paper", yref="paper", text="Importance (%)", showarrow=False,
                        textangle=-90, xanchor="center", yanchor="middle",
                        font=dict(family="DejaVu Sans, sans-serif", size=60, color="black")))

axis_common = dict(showgrid=False, zeroline=False, showline=True, mirror=True, linecolor="black",
                   linewidth=2.5, ticks="outside", ticklen=11, tickwidth=2.5, tickcolor="black",
                   automargin=False)
strip_axis = dict(showgrid=False, zeroline=False, showticklabels=False, ticks="", showline=True,
                  mirror=True, linecolor="#333333", linewidth=3, automargin=False)

fig.update_layout(
    width=W, height=H, margin=dict(l=0, r=0, t=0, b=0, autoexpand=False),
    paper_bgcolor="white", plot_bgcolor="white", barmode="overlay", showlegend=False,
    xaxis=dict(domain=[fx(349), fx(3015)], range=[0, n_total], anchor="y", tickvals=index_ticks,
               tickfont=dict(family=SANS, size=59, color="black"), ticklabelstandoff=-19, **axis_common),
    yaxis=dict(domain=[fy(873), fy(386)], range=[0, 1], anchor="x", tickvals=prob_ticks, ticktext=prob_ticktext,
               tickfont=dict(family=SANS, size=62, color="black"), ticklabelstandoff=4, **axis_common),
    xaxis2=dict(domain=[fx(349), fx(3013)], range=[-0.733, 6.75], anchor="y2", tickvals=xs, ticktext=features,
                tickfont=dict(family=SERIF, size=62, color="black"), ticklabelstandoff=-24, **axis_common),
    yaxis2=dict(domain=[fy(1566), fy(1079)], range=[0, 32], anchor="x2", tickvals=importance_ticks,
                tickfont=dict(family=SANS, size=52, color="black"), ticklabelstandoff=6, **axis_common),
    xaxis3=dict(domain=[fx(349), fx(3015)], range=[0, n_total], anchor="y3", **strip_axis),
    yaxis3=dict(domain=[fy(119), fy(39)], range=[0, 1], anchor="x3", **strip_axis),
    annotations=annotations,
)

fig.write_html("out.html")
